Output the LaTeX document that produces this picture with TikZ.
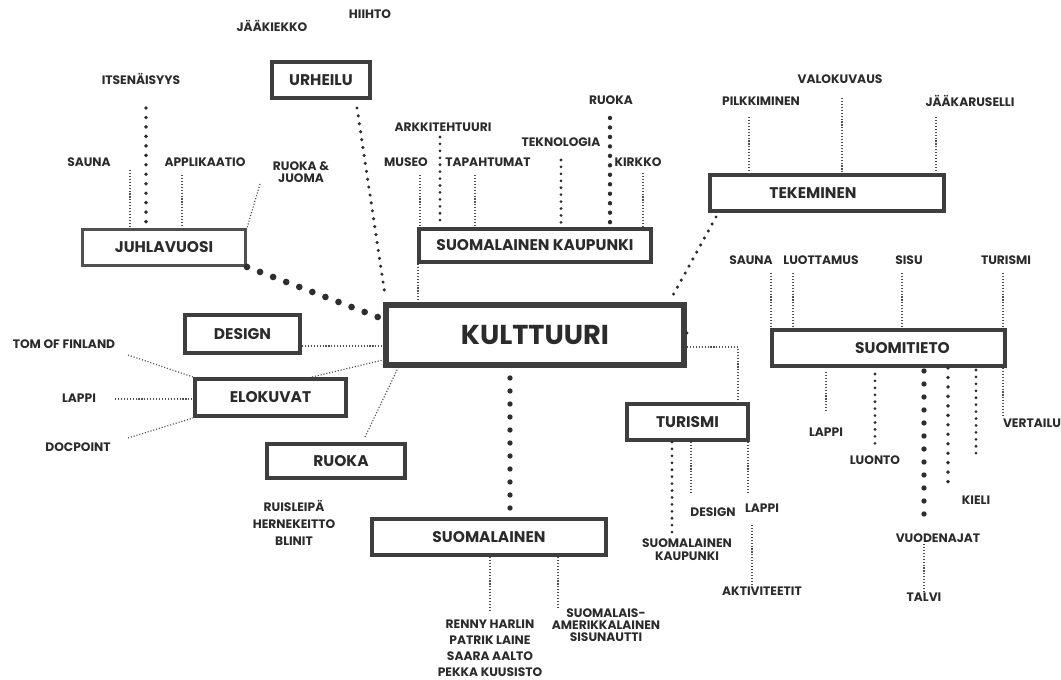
\documentclass[tikz,border=0pt]{standalone}
\usepackage{fontspec}
\setmainfont{Poppins}
\usetikzlibrary{calc}
\definecolor{ink}{HTML}{2B2B2B}
\definecolor{edgec}{HTML}{3E3E3E}
\definecolor{dotc}{HTML}{2E2E2E}
\definecolor{thinc}{HTML}{505050}
\begin{document}
\begin{tikzpicture}[x=0.75pt,y=-0.75pt,
 box/.style={draw=edgec, line width=3pt, fill=white, font=\fontsize{11.6}{14}\selectfont\bfseries, text=ink, inner sep=0pt},
 lab/.style={font=\fontsize{9.2}{11}\selectfont\bfseries, text=ink, inner sep=1pt, align=center},
 fine/.style={draw=thinc, line width=0.85pt, dash pattern=on 0.85pt off 1.35pt},
 dotS/.style={draw=dotc, line width=2.3pt, line cap=round, dash pattern=on 0pt off 5.2pt},
 dotT/.style={draw=dotc, line width=2.6pt, line cap=round, dash pattern=on 0pt off 6pt},
 dotM/.style={draw=dotc, line width=2.9pt, line cap=round, dash pattern=on 0pt off 7.1pt},
 dotL/.style={draw=dotc, line width=4pt, line cap=round, dash pattern=on 0pt off 9.75pt},
 dotXL/.style={draw=dotc, line width=5pt, line cap=round, dash pattern=on 0pt off 10.5pt},
]
\useasboundingbox (0,0) rectangle (1061,680);

% boxes
\node[box, minimum width=98*0.75pt, minimum height=36*0.75pt] (urheilu) at (321,80) {URHEILU};
\node[box, line width=2.2pt, draw=thinc, minimum width=163*0.75pt, minimum height=36*0.75pt] (juhla) at (164,247.5) {JUHLAVUOSI};
\node[box, minimum width=232*0.75pt, minimum height=33*0.75pt] (sk) at (535,245.5) {SUOMALAINEN KAUPUNKI};
\node[box, minimum width=234*0.75pt, minimum height=36*0.75pt] (tekem) at (827,193) {TEKEMINEN\hspace*{21pt}};
\node[box, line width=4.5pt, minimum width=298*0.75pt, minimum height=60*0.75pt, font=\fontsize{20.5}{24}\selectfont\bfseries] (kult) at (535,335) {KULTTUURI};
\node[box, minimum width=233*0.75pt, minimum height=36*0.75pt] (suomi) at (888.5,348) {\hspace*{21pt}SUOMITIETO};
\node[box, minimum width=115*0.75pt, minimum height=38*0.75pt] (design) at (242.5,334) {DESIGN};
\node[box, minimum width=151*0.75pt, minimum height=37*0.75pt] (elok) at (270.5,397.5) {ELOKUVAT};
\node[box, minimum width=138*0.75pt, minimum height=34*0.75pt] (ruoka) at (336,461) {\hspace*{7.5pt}RUOKA};
\node[box, minimum width=121*0.75pt, minimum height=36*0.75pt] (turismi) at (687.5,422) {TURISMI};
\node[box, minimum width=234*0.75pt, minimum height=36*0.75pt] (suomalainen) at (489,537) {SUOMALAINEN};

% labels
\node[lab] (jaakiekko) at (272,26) {JÄÄKIEKKO};
\node[lab] (hiihto) at (370,14) {HIIHTO};
\node[lab] (itsen) at (141,79) {ITSENÄISYYS};
\node[lab] (saunaA) at (89,162) {SAUNA};
\node[lab] (appl) at (205,162) {APPLIKAATIO};
\node[lab, font=\fontsize{9.2}{9}\selectfont\bfseries] (ruokajuoma) at (301,172) {RUOKA \&\\JUOMA};
\node[lab] (arkki) at (443,127) {ARKKITEHTUURI};
\node[lab] (museo) at (406,162) {MUSEO};
\node[lab] (tapaht) at (488,162) {TAPAHTUMAT};
\node[lab] (teknol) at (561,142) {TEKNOLOGIA};
\node[lab] (ruokaT) at (611,100) {RUOKA};
\node[lab] (kirkko) at (638,162) {KIRKKO};
\node[lab] (valoku) at (840,79) {VALOKUVAUS};
\node[lab] (pilkki) at (761,101) {PILKKIMINEN};
\node[lab] (jaakar) at (970,101) {JÄÄKARUSELLI};
\node[lab] (saunaB) at (751,260) {SAUNA};
\node[lab] (luott) at (821,260) {LUOTTAMUS};
\node[lab] (sisu) at (909,260) {SISU};
\node[lab] (turismiT) at (1006,260) {TURISMI};
\node[lab] (tom) at (64,344) {TOM OF FINLAND};
\node[lab] (lappiL) at (79,398) {LAPPI};
\node[lab] (docp) at (78,447) {DOCPOINT};
\node[lab, font=\fontsize{9.2}{12.75}\selectfont\bfseries] (ruisl) at (294,523) {RUISLEIPÄ\\HERNEKEITTO\\BLINIT};
\node[lab, font=\fontsize{9.2}{12}\selectfont\bfseries] (renny) at (490,648) {RENNY HARLIN\\PATRIK LAINE\\SAARA AALTO\\PEKKA KUUSISTO};
\node[lab, font=\fontsize{9.2}{9}\selectfont\bfseries] (suomalais) at (606,625) {SUOMALAIS-\\AMERIKKALAINEN\\SISUNAUTTI};
\node[lab] (designT) at (713,512) {DESIGN};
\node[lab] (lappiT) at (762,508) {LAPPI};
\node[lab, font=\fontsize{9.2}{9.75}\selectfont\bfseries] (skT) at (687,550) {SUOMALAINEN\\KAUPUNKI};
\node[lab] (aktiv) at (762,591) {AKTIVITEETIT};
\node[lab] (lappiS) at (826,432) {LAPPI};
\node[lab] (luonto) at (875,460) {LUONTO};
\node[lab] (kieli) at (976,500) {KIELI};
\node[lab] (vertailu) at (1032,423) {VERTAILU};
\node[lab] (vuoden) at (938,538) {VUODENAJAT};
\node[lab] (talvi) at (924,597) {TALVI};

% Juhlavuosi connectors
\coordinate (cItse) at (146,108);
\draw[dotM] (cItse) -- (cItse |- juhla.north);
\coordinate (cSaunaA) at (130,170);
\draw[fine] (cSaunaA) -- (cSaunaA |- juhla.north);
\coordinate (cAppl) at (182,175);
\draw[fine] (cAppl) -- (cAppl |- juhla.north);
\coordinate (cRJ) at (260,184);
\draw[fine] (cRJ) -- (juhla.north east);
\draw[dotXL] (juhla.south east) -- (kult.174);

% Urheilu
\draw[dotT] ($(urheilu.south east)+(-15,8)$) -- ($(kult.north west)+(2,-7)$);

% Suomalainen kaupunki
\coordinate (cMuseo) at (420,175);
\draw[fine] (cMuseo) -- (cMuseo |- sk.north);
\draw[fine] ($(sk.south west)+(1,0)$) -- ($(kult.north west)+(35,0)$);
\coordinate (cArk) at (440,137);
\draw[dotS] (cArk) -- (cArk |- sk.north);
\coordinate (cTap) at (475,175);
\draw[fine] (cTap) -- (cTap |- sk.north);
\coordinate (cTek) at (561,160);
\draw[dotS] (cTek) -- (cTek |- sk.north);
\coordinate (cRuT) at (610,118);
\draw[dotM, line width=3.3pt] (cRuT) -- (cRuT |- sk.north);
\coordinate (cKir) at (643,173);
\draw[fine] (cKir) -- (cKir |- sk.north);

% Tekeminen
\draw[dotT] ($(tekem.south west)+(8,4)$) -- ($(kult.north east)+(-15,-5)$);
\coordinate (cPil) at (749,117);
\draw[fine] (cPil) -- (cPil |- tekem.north);
\coordinate (cVal) at (842,98);
\draw[fine] (cVal) -- (cVal |- tekem.north);
\coordinate (cJaa) at (936,117);
\draw[fine] (cJaa) -- (cJaa |- tekem.north);

% Suomitieto
\draw[dotS] ($(kult.east)+(0,-2)$) -- ($(kult.east)+(0,-2)$ -| suomi.west);
\coordinate (cSauB) at (771,273);
\draw[fine] (cSauB) -- (cSauB |- suomi.north);
\coordinate (cLuot) at (793,273);
\draw[fine] (cLuot) -- (cLuot |- suomi.north);
\coordinate (cSisu) at (902,273);
\draw[fine] (cSisu) -- (cSisu |- suomi.north);
\coordinate (cTurT) at (1003,273);
\draw[fine] (cTurT) -- (cTurT |- suomi.north);
\coordinate (cVer) at (1003,417);
\draw[fine] (cVer |- suomi.south) -- (cVer);
\coordinate (cLapS) at (826,412);
\draw[fine] ($(cLapS |- suomi.south)+(0,4)$) -- (cLapS);
\coordinate (cLuo) at (875,450);
\draw[dotS] ($(cLuo |- suomi.south)+(0,6)$) -- (cLuo);
\coordinate (cVuo) at (924,525);
\draw[dotL] ($(cVuo |- suomi.south)+(0,3)$) -- (cVuo);
\coordinate (cKie) at (948,491);
\draw[dotM] (cKie |- suomi.south) -- (cKie);
\coordinate (cKie2) at (976,458);
\draw[dotS] ($(cKie2 |- suomi.south)+(0,2)$) -- (cKie2);
\draw[fine] (vuoden.south -| talvi.north) -- (talvi.north);

% Turismi
\draw[fine] ($(kult.east)+(0,12)$) -| ($(turismi.north east)+(-12,0)$);
\coordinate (cTSK) at (672,535);
\draw[dotS] (cTSK |- turismi.south) -- (cTSK);
\coordinate (cTD) at (691,493);
\draw[fine] (cTD |- turismi.south) -- (cTD);
\coordinate (cTL) at (748,493);
\draw[fine] (cTL |- turismi.south) -- (cTL);
\coordinate (cAk) at (752,525);
\draw[fine] (cAk) -- (cAk |- aktiv.north);

% Suomalainen
\draw[dotL] ($(kult.south)+(-25,10)$) -- ($(suomalainen.north)+(21,-7)$);
\coordinate (cRen) at (490,610);
\draw[fine] (cRen |- suomalainen.south) -- (cRen);
\coordinate (cSA) at (558,608);
\draw[fine] (cSA |- suomalainen.south) -- (cSA);

% Design / Elokuvat / Ruoka
\coordinate (cD) at ($(design.east)+(0,12)$);
\draw[fine] (cD) -- (cD -| kult.west);
\draw[fine] ($(elok.north west)+(119,0)$) -- ($(kult.south west)+(0,-8)$);
\coordinate (cTom) at (128,355);
\draw[fine] (cTom) -- (elok.north west);
\coordinate (cLapL) at (115,399);
\draw[fine] (cLapL) -- (cLapL -| elok.west);
\coordinate (cDoc) at (128,438);
\draw[fine] (cDoc) -- (elok.south west);
\draw[fine] ($(ruoka.north east)+(-42,-5)$) -- ($(kult.south west)+(15,0)$);
\end{tikzpicture}
\end{document}
